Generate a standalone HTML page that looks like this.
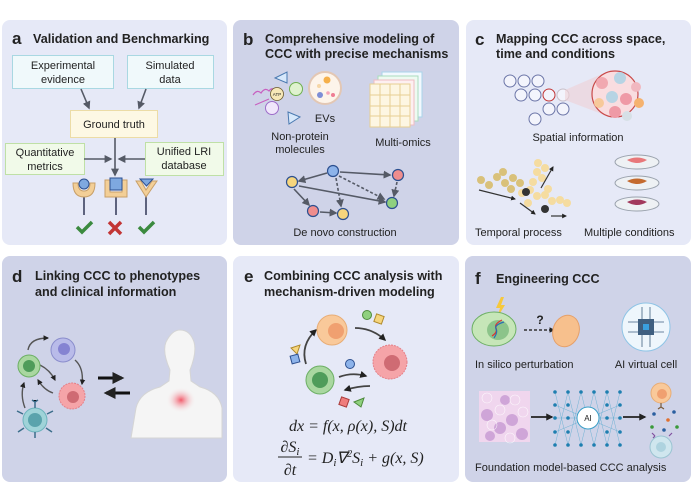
<!DOCTYPE html>
<html><head><meta charset="utf-8"><style>
html,body{margin:0;padding:0;background:#fff;width:692px;height:501px;overflow:hidden}
svg{display:block}
text{font-family:"Liberation Sans",sans-serif;fill:#222}
.t{font-weight:bold;font-size:12.6px}
.L{font-weight:bold;font-size:17px}
.b{font-size:11px}
.m{font-family:"Liberation Serif",serif;font-style:italic;font-size:16px}
</style></head><body>
<svg width="692" height="501" viewBox="0 0 692 501" xmlns="http://www.w3.org/2000/svg">
<defs>
<marker id="ar" viewBox="0 0 10 10" refX="8" refY="5" markerWidth="5" markerHeight="5" orient="auto"><path d="M0,0L10,5L0,10z" fill="#555a66"/></marker>
<marker id="ak" viewBox="0 0 10 10" refX="8" refY="5" markerWidth="4" markerHeight="4" orient="auto"><path d="M0,0L10,5L0,10z" fill="#222"/></marker>
<radialGradient id="glow"><stop offset="0" stop-color="#f25a6a"/><stop offset="1" stop-color="#f5f5f5" stop-opacity="0"/></radialGradient>
</defs>
<rect x="2" y="20" width="225" height="225" rx="8" fill="#e6e9f7"/>
<rect x="233" y="20" width="226" height="225" rx="8" fill="#cfd3e8"/>
<rect x="466" y="20" width="225" height="225" rx="8" fill="#e6e9f7"/>
<rect x="2" y="256" width="225" height="226" rx="8" fill="#cfd3e8"/>
<rect x="233" y="256" width="226" height="226" rx="8" fill="#e6e9f7"/>
<rect x="465" y="256" width="226" height="226" rx="8" fill="#cfd3e8"/>

<!-- A -->
<text class="L" x="12" y="44">a</text>
<text class="t" x="33" y="43">Validation and Benchmarking</text>
<rect x="12.5" y="55.5" width="101" height="33" fill="#f0f9fb" stroke="#a9d8e2"/>
<text class="b" x="63" y="69" text-anchor="middle">Experimental</text>
<text class="b" x="63" y="83" text-anchor="middle">evidence</text>
<rect x="127.5" y="55.5" width="86" height="33" fill="#f0f9fb" stroke="#a9d8e2"/>
<text class="b" x="170" y="69" text-anchor="middle">Simulated</text>
<text class="b" x="170" y="83" text-anchor="middle">data</text>
<line x1="81" y1="89" x2="89" y2="108" stroke="#555a66" stroke-width="1.6" marker-end="url(#ar)"/>
<line x1="146" y1="89" x2="139" y2="108" stroke="#555a66" stroke-width="1.6" marker-end="url(#ar)"/>
<rect x="70.5" y="110.5" width="87" height="27" fill="#fdf8e4" stroke="#ecdca6"/>
<text class="b" x="114" y="128" text-anchor="middle">Ground truth</text>
<rect x="5.5" y="143.5" width="79" height="31" fill="#f1fae9" stroke="#bfe0a6"/>
<text class="b" x="45" y="156" text-anchor="middle">Quantitative</text>
<text class="b" x="45" y="170" text-anchor="middle">metrics</text>
<rect x="145.5" y="142.5" width="78" height="33" fill="#f1fae9" stroke="#bfe0a6"/>
<text class="b" x="184" y="155" text-anchor="middle">Unified LRI</text>
<text class="b" x="184" y="169" text-anchor="middle">database</text>
<line x1="115" y1="138" x2="115" y2="175" stroke="#555a66" stroke-width="1.6" marker-end="url(#ar)"/>
<line x1="84" y1="159" x2="111" y2="159" stroke="#555a66" stroke-width="1.6" marker-end="url(#ar)"/>
<line x1="145" y1="159" x2="119" y2="159" stroke="#555a66" stroke-width="1.6" marker-end="url(#ar)"/>
<g stroke="#3d4260" stroke-width="1.6"><line x1="84" y1="196" x2="84" y2="215"/><line x1="116" y1="196" x2="116" y2="215"/><line x1="146" y1="196" x2="146" y2="215"/></g>
<path d="M73,183 Q73,197 84,197 Q95,197 95,183 L90,183 Q90,191 84,191 Q78,191 78,183z" fill="#f3cf97" stroke="#c8a069"/>
<circle cx="84" cy="184" r="5" fill="#7ea8e0" stroke="#2c4f8f"/>
<path d="M105,180 L105,197 L127,197 L127,180 L122,180 L122,192 L110,192 L110,180z" fill="#f3cf97" stroke="#c8a069"/>
<rect x="110" y="178" width="12" height="12" fill="#7ea8e0" stroke="#2c4f8f"/>
<path d="M136,181 L146,197 L157,181 L152,181 L146,190 L141,181z" fill="#f3cf97" stroke="#c8a069"/>
<path d="M140,179 L153,179 L146.5,186z" fill="#7ea8e0" stroke="#2c4f8f"/>
<path d="M77,227 L82,232 L92,222" stroke="#3b8a3f" stroke-width="3.5" fill="none"/>
<path d="M109,222 L121,234 M121,222 L109,234" stroke="#c23535" stroke-width="3.5"/>
<path d="M139,227 L144,232 L154,222" stroke="#3b8a3f" stroke-width="3.5" fill="none"/>

<!-- B -->
<text class="L" x="243" y="45">b</text>
<text class="t" x="265" y="43">Comprehensive modeling of</text>
<text class="t" x="265" y="58">CCC with precise mechanisms</text>
<path d="M253,95 q4,-6 8,-2 q4,-6 8,-2 q3,-4 6,-1 M255,105 l14,-6" stroke="#c860c0" stroke-width="1.2" fill="none"/>
<circle cx="277" cy="94" r="6.5" fill="#f6e8b8" stroke="#6b5a2a" stroke-width="0.8"/><text x="277" y="96" font-size="4.5" text-anchor="middle">ATP</text>
<circle cx="296" cy="89" r="6.5" fill="#dff2cf" stroke="#6fb050"/>
<circle cx="272" cy="108" r="6.5" fill="#f0e6fb" stroke="#9d6cc9"/>
<path d="M275,78 L287,72 L287,83z" fill="#d7e8fb" stroke="#4a79b0"/>
<path d="M288,112 L300,117 L289,124z" fill="#d7e8fb" stroke="#4a79b0"/>
<circle cx="325" cy="88" r="16" fill="#fdf4ea" stroke="#e3c7b4" stroke-width="2"/>
<circle cx="327" cy="80" r="3.5" fill="#f5b04b"/><circle cx="319" cy="86" r="2" fill="#f6d6a6"/><circle cx="320" cy="95" r="3" fill="#7d8ed6"/><circle cx="328" cy="93" r="1.8" fill="#f5a6b8"/><circle cx="333" cy="95" r="2" fill="#ef7d93"/>
<text class="b" x="325" y="122" text-anchor="middle" font-size="9">EVs</text>
<text class="b" x="300" y="140" text-anchor="middle">Non-protein</text>
<text class="b" x="300" y="153" text-anchor="middle">molecules</text>
<rect x="382" y="72" width="40" height="45" fill="#f2f9fe" stroke="#a9d4ea"/>
<rect x="378" y="76" width="40" height="45" fill="#eefaf2" stroke="#a9dcbd"/>
<rect x="374" y="80" width="40" height="45" fill="#fdf0f1" stroke="#efbcc3"/>
<rect x="370" y="84" width="40" height="43" fill="#fdf6e2" stroke="#e7cf92"/>
<g stroke="#e7cf92"><line x1="380" y1="84" x2="380" y2="127"/><line x1="390" y1="84" x2="390" y2="127"/><line x1="400" y1="84" x2="400" y2="127"/><line x1="370" y1="95" x2="410" y2="95"/><line x1="370" y1="106" x2="410" y2="106"/><line x1="370" y1="116" x2="410" y2="116"/></g>
<text class="b" x="403" y="146" text-anchor="middle">Multi-omics</text>
<g stroke="#555a66" stroke-width="1.6" fill="none">
<line x1="327" y1="173" x2="299" y2="181" marker-end="url(#ar)"/>
<line x1="340" y1="172" x2="390" y2="175" marker-end="url(#ar)"/>
<line x1="299" y1="186" x2="385" y2="202" marker-end="url(#ar)"/>
<line x1="336" y1="178" x2="341" y2="206" stroke-dasharray="3,2" marker-end="url(#ar)"/>
<line x1="339" y1="176" x2="384" y2="199" stroke-dasharray="3,2" marker-end="url(#ar)"/>
<line x1="397" y1="182" x2="394" y2="196" stroke-dasharray="3,2" marker-end="url(#ar)"/>
<line x1="294" y1="189" x2="309" y2="205" marker-end="url(#ar)"/>
<line x1="320" y1="212" x2="336" y2="213" marker-end="url(#ar)"/>
</g>
<g stroke="#2c4f8f" stroke-width="1.2">
<circle cx="292" cy="182" r="5.5" fill="#f6d57d"/><circle cx="333" cy="171" r="5.5" fill="#8db3ea"/><circle cx="398" cy="175" r="5.5" fill="#ef8d8d"/><circle cx="392" cy="203" r="5.5" fill="#8fd07e"/><circle cx="313" cy="211" r="5.5" fill="#ef8d8d"/><circle cx="343" cy="214" r="5.5" fill="#f6d57d"/>
</g>
<text class="b" x="345" y="236" text-anchor="middle">De novo construction</text>

<!-- C -->
<text class="L" x="475" y="45">c</text>
<text class="t" x="496" y="43">Mapping CCC across space,</text>
<text class="t" x="496" y="58">time and conditions</text>
<g fill="#f3f4fc" stroke="#6c76a8" stroke-width="1">
<circle cx="510" cy="81" r="6"/><circle cx="524" cy="81" r="6"/><circle cx="538" cy="81" r="6"/>
<circle cx="521" cy="95" r="6"/><circle cx="535" cy="95" r="6"/><circle cx="563" cy="95" r="6" stroke="#c8bfc8"/>
<circle cx="549" cy="109" r="6"/><circle cx="563" cy="109" r="6"/><circle cx="535" cy="119" r="6"/>
</g>
<circle cx="549" cy="95" r="6" fill="#f3f4fc" stroke="#c23535"/>
<path d="M565,90 L602,74 L602,114 L565,100z" fill="#efd0d6" opacity="0.6"/>
<circle cx="615" cy="94" r="23" fill="#f9dde0" stroke="#c94a4a" stroke-width="1.2"/>
<g><circle cx="602" cy="83" r="6" fill="#f1a8b0"/><circle cx="620" cy="78" r="6" fill="#b7d4e4"/><circle cx="636" cy="87" r="5" fill="#f1b8c0"/><circle cx="612" cy="97" r="6" fill="#b7d4e4"/><circle cx="626" cy="99" r="6" fill="#ef9aa6"/><circle cx="599" cy="103" r="5" fill="#f7c99a"/><circle cx="639" cy="103" r="5" fill="#f5b26f"/><circle cx="615" cy="112" r="6" fill="#ef9aa6"/><circle cx="627" cy="116" r="5" fill="#d6e0e6"/></g>
<text class="b" x="578" y="141" text-anchor="middle">Spatial information</text>
<g fill="#f5dca0"><circle cx="538" cy="163" r="4"/><circle cx="545" cy="168" r="4"/><circle cx="537" cy="172" r="4"/><circle cx="542" cy="178" r="4"/><circle cx="533" cy="182" r="4"/><circle cx="530" cy="190" r="4"/><circle cx="537" cy="196" r="4"/><circle cx="545" cy="195" r="4"/><circle cx="552" cy="201" r="4"/><circle cx="560" cy="200" r="4"/><circle cx="567" cy="203" r="4"/><circle cx="528" cy="203" r="4"/><circle cx="522" cy="193" r="4"/><circle cx="548" cy="189" r="4"/></g>
<g fill="#d9c17a"><circle cx="481" cy="180" r="4"/><circle cx="489" cy="185" r="4"/><circle cx="497" cy="177" r="4"/><circle cx="505" cy="183" r="4"/><circle cx="513" cy="178" r="4"/><circle cx="511" cy="189" r="4"/><circle cx="503" cy="172" r="4"/><circle cx="520" cy="183" r="4"/></g>
<circle cx="526" cy="192" r="4" fill="#333"/><circle cx="545" cy="209" r="4" fill="#333"/>
<g stroke="#333" stroke-width="1.2"><line x1="479" y1="190" x2="515" y2="199" marker-end="url(#ak)"/><line x1="520" y1="203" x2="535" y2="214" marker-end="url(#ak)"/><line x1="541" y1="188" x2="553" y2="167" marker-end="url(#ak)"/><line x1="551" y1="216" x2="566" y2="216" marker-end="url(#ak)"/></g>
<g stroke="#9aa2ad" fill="#eef1f4"><ellipse cx="637" cy="204" rx="22" ry="7"/><ellipse cx="637" cy="183" rx="22" ry="7"/><ellipse cx="637" cy="162" rx="22" ry="7"/></g>
<path d="M627,160 q10,-5 20,0 q-10,6 -20,0z" fill="#e8787a"/>
<path d="M627,181 q10,-5 20,0 q-10,6 -20,0z" fill="#c46a2e"/>
<path d="M627,202 q10,-5 20,0 q-10,6 -20,0z" fill="#a23a5c"/>
<text class="b" x="475" y="236">Temporal process</text>
<text class="b" x="584" y="236">Multiple conditions</text>

<!-- D -->
<text class="L" x="12" y="282">d</text>
<text class="t" x="35" y="280">Linking CCC to phenotypes</text>
<text class="t" x="35" y="296">and clinical information</text>
<g stroke="#555" stroke-width="1.4" fill="none">
<path d="M28,350 Q30,338 48,338" marker-end="url(#ak)"/><path d="M75,360 Q84,368 82,384" marker-end="url(#ak)"/>
<path d="M40,365 Q50,370 55,380" marker-end="url(#ak)"/><path d="M53,393 Q44,390 38,380" marker-end="url(#ak)"/>
<path d="M25,408 Q20,395 24,383" marker-end="url(#ak)"/>
</g>
<circle cx="29" cy="366" r="11" fill="#a9d7a0" stroke="#6caf64"/><circle cx="29" cy="366" r="6" fill="#4f9c5a"/>
<circle cx="63" cy="350" r="12" fill="#b9bbe9" stroke="#8a8dcc"/><circle cx="64" cy="349" r="6" fill="#8583d2"/>
<circle cx="72" cy="396" r="13" fill="#f5a4a8" stroke="#e57f87" stroke-dasharray="2,1"/><circle cx="73" cy="397" r="6" fill="#cf6b73"/>
<circle cx="35" cy="420" r="12" fill="#9fd3d8" stroke="#6db3bd"/><circle cx="35" cy="420" r="7" fill="#5aa3ac"/>
<g stroke="#3b6d8a" stroke-width="1.5"><path d="M35,408 v-6 m-3,-2 l3,2 l3,-2"/><path d="M23,414 l-6,-3"/><path d="M47,414 l6,-3"/><path d="M24,428 l-6,4"/><path d="M46,428 l6,4"/><path d="M35,432 v6"/></g>
<g stroke="#111" stroke-width="3"><line x1="98" y1="378" x2="122" y2="378" marker-end="url(#ak)"/><line x1="130" y1="393" x2="106" y2="393" marker-end="url(#ak)"/></g>
<path d="M131,438 L136,408 Q140,392 160,387 L169,381 L170,370 Q162,352 166,342 Q172,330 180,330 Q190,330 194,342 Q197,352 190,370 L191,381 L200,387 Q219,392 222,408 L222,438z" fill="#f5f5f5" stroke="#d5d5d5"/>
<ellipse cx="181" cy="400" rx="15" ry="13" fill="url(#glow)"/>

<!-- E -->
<text class="L" x="244" y="282">e</text>
<text class="t" x="264" y="280">Combining CCC analysis with</text>
<text class="t" x="264" y="296">mechanism-driven modeling</text>
<g stroke="#444" stroke-width="1.8" fill="none">
<path d="M306,364 Q300,345 316,330" marker-end="url(#ak)"/><path d="M355,328 Q372,328 385,340" marker-end="url(#ak)"/>
<path d="M339,377 Q352,372 366,376" marker-end="url(#ak)"/><path d="M370,386 Q358,386 345,390" marker-end="url(#ak)"/>
</g>
<circle cx="332" cy="330" r="15" fill="#f9c99a" stroke="#e8ad76"/><circle cx="336" cy="331" r="8" fill="#f0a070"/>
<circle cx="390" cy="362" r="17" fill="#f5a4a8" stroke="#e57f87" stroke-dasharray="2,1"/><circle cx="392" cy="363" r="8" fill="#cf6b73"/>
<circle cx="320" cy="380" r="14" fill="#a9d7a0" stroke="#6caf64"/><circle cx="320" cy="380" r="8" fill="#4f9c5a"/>
<circle cx="367" cy="315" r="4.5" fill="#8fd07e" stroke="#4d8a3c"/><rect x="375" y="315" width="8" height="8" transform="rotate(20 379 319)" fill="#f6d57d" stroke="#b08a2c"/>
<path d="M291,348 L300,345 L297,354z" fill="#f6d57d" stroke="#b08a2c"/><rect x="291" y="355" width="8" height="8" transform="rotate(-15 295 359)" fill="#8db3ea" stroke="#2c4f8f"/>
<circle cx="350" cy="364" r="4.5" fill="#8db3ea" stroke="#2c4f8f"/>
<rect x="340" y="398" width="8" height="8" transform="rotate(20 344 402)" fill="#ef7d7d" stroke="#a83a3a"/><path d="M354,402 L364,398 L361,407z" fill="#8fd07e" stroke="#4d8a3c"/>
<text class="m" x="348" y="431" text-anchor="middle">dx = f(x, ρ(x), S)dt</text>
<text class="m" x="290" y="452" text-anchor="middle">∂S<tspan font-size="11" dy="3">i</tspan></text>
<line x1="278" y1="457" x2="302" y2="457" stroke="#222" stroke-width="0.9"/>
<text class="m" x="290" y="475" text-anchor="middle">∂t</text>
<text class="m" x="307" y="463">= D<tspan font-size="11" dy="3">i</tspan><tspan dy="-3">∇</tspan><tspan font-size="10" dy="-6">2</tspan><tspan dy="6">S</tspan><tspan font-size="11" dy="3">i</tspan><tspan dy="-3"> + g(x, S)</tspan></text>

<!-- F -->
<text class="L" x="475" y="284">f</text>
<text class="t" x="496" y="283">Engineering CCC</text>
<path d="M501,297 L496,308 L500,308 L497,318 L505,305 L501,305 L504,297z" fill="#f6c83c"/>
<ellipse cx="494" cy="329" rx="22" ry="17" fill="#c6e6b8" stroke="#6caf64"/>
<ellipse cx="498" cy="330" rx="11" ry="10" fill="#8cc48a"/>
<path d="M492,336 q6,-4 4,-8 q-2,-4 6,-8" stroke="#d33" stroke-width="1.2" fill="none"/><path d="M494,338 q4,-6 2,-9 q-2,-4 8,-7" stroke="#2a6fb0" stroke-width="1.2" fill="none"/>
<line x1="524" y1="330" x2="554" y2="330" stroke="#333" stroke-width="1.4" stroke-dasharray="3,2" marker-end="url(#ak)"/>
<text x="540" y="324" text-anchor="middle" font-weight="bold" font-size="12">?</text>
<ellipse cx="566" cy="331" rx="13" ry="16" transform="rotate(20 566 331)" fill="#f7c08d" stroke="#e5a06a"/>
<circle cx="646" cy="327" r="24" fill="#eef6fc" stroke="#8ec4e6"/>
<rect x="638" y="319" width="16" height="16" fill="#3f5f80"/><rect x="643" y="324" width="6" height="6" fill="#3aa0e0"/>
<g stroke="#3f5f80" stroke-width="0.8"><path d="M628,322 h10 M628,332 h10 M654,322 h10 M654,332 h10 M642,307 v12 M650,307 v12 M642,335 v12 M650,335 v12"/></g>
<text class="b" x="475" y="368">In silico perturbation</text>
<text class="b" x="646" y="368" text-anchor="middle">AI virtual cell</text>
<rect x="479" y="391" width="51" height="51" fill="#f0d6ee"/>
<g fill="#c79ad3" opacity="0.8"><circle cx="487" cy="415" r="6"/><circle cx="500" cy="428" r="6"/><circle cx="512" cy="420" r="6"/><circle cx="522" cy="434" r="6"/><circle cx="505" cy="400" r="5"/><circle cx="490" cy="436" r="5"/></g>
<g fill="none" stroke="#fff" stroke-width="0.6" opacity="0.8"><circle cx="487" cy="398" r="5"/><circle cx="500" cy="410" r="5"/><circle cx="515" cy="400" r="5"/><circle cx="523" cy="412" r="5"/><circle cx="492" cy="425" r="5"/><circle cx="510" cy="438" r="5"/></g>
<line x1="531" y1="417" x2="552" y2="417" stroke="#222" stroke-width="1.8" marker-end="url(#ak)"/>
<g stroke="#3a9fc8" stroke-width="0.4" opacity="0.8">
<path d="M555,392 L568,445 M555,445 L568,392 M568,392 L581,445 M568,445 L581,392 M581,392 L594,445 M581,445 L594,392 M594,392 L607,445 M594,445 L607,392 M607,392 L620,445 M607,445 L620,392 M555,405 L620,432 M555,432 L620,405 M555,418 L620,418"/>
</g>
<g fill="#1e7fb0"><circle cx="555" cy="392" r="1.8"/><circle cx="555" cy="405" r="1.8"/><circle cx="555" cy="418" r="1.8"/><circle cx="555" cy="432" r="1.8"/><circle cx="555" cy="445" r="1.8"/>
<circle cx="568" cy="392" r="1.8"/><circle cx="568" cy="405" r="1.8"/><circle cx="568" cy="418" r="1.8"/><circle cx="568" cy="432" r="1.8"/><circle cx="568" cy="445" r="1.8"/>
<circle cx="607" cy="392" r="1.8"/><circle cx="607" cy="405" r="1.8"/><circle cx="607" cy="418" r="1.8"/><circle cx="607" cy="432" r="1.8"/><circle cx="607" cy="445" r="1.8"/>
<circle cx="620" cy="392" r="1.8"/><circle cx="620" cy="405" r="1.8"/><circle cx="620" cy="418" r="1.8"/><circle cx="620" cy="432" r="1.8"/><circle cx="620" cy="445" r="1.8"/>
<circle cx="581" cy="392" r="1.8"/><circle cx="594" cy="392" r="1.8"/><circle cx="581" cy="445" r="1.8"/><circle cx="594" cy="445" r="1.8"/></g>
<circle cx="588" cy="418" r="11" fill="#fff" stroke="#3a9fc8"/>
<text x="588" y="421" font-size="8" text-anchor="middle" fill="#1e7fb0">AI</text>
<line x1="623" y1="417" x2="645" y2="417" stroke="#222" stroke-width="1.8" marker-end="url(#ak)"/>
<circle cx="661" cy="393" r="10" fill="#f9c99a" stroke="#e8ad76"/><circle cx="662" cy="394" r="5" fill="#f0a070"/>
<path d="M661,403 v4 m-3,2 l3,-2 l3,2" stroke="#7a5a3a" stroke-width="1.2" fill="none"/>
<circle cx="661" cy="447" r="11" fill="#cfe6ee" stroke="#9bc4d2"/><circle cx="661" cy="447" r="5" fill="#aed3df"/>
<g><circle cx="654" cy="414" r="1.8" fill="#2a5fa0"/><circle cx="674" cy="412" r="1.8" fill="#2a5fa0"/><circle cx="668" cy="420" r="1.8" fill="#e07030"/><circle cx="652" cy="427" r="1.8" fill="#3a9a3a"/><circle cx="677" cy="427" r="1.8" fill="#3a9a3a"/><circle cx="664" cy="430" r="1.8" fill="#2a5fa0"/></g>
<path d="M652,433 l3,3 M655,436 l-2,2 M672,433 l-3,3" stroke="#8050a0" stroke-width="1.2"/>
<text class="b" x="475" y="471">Foundation model-based CCC analysis</text>
</svg>
</body></html>
